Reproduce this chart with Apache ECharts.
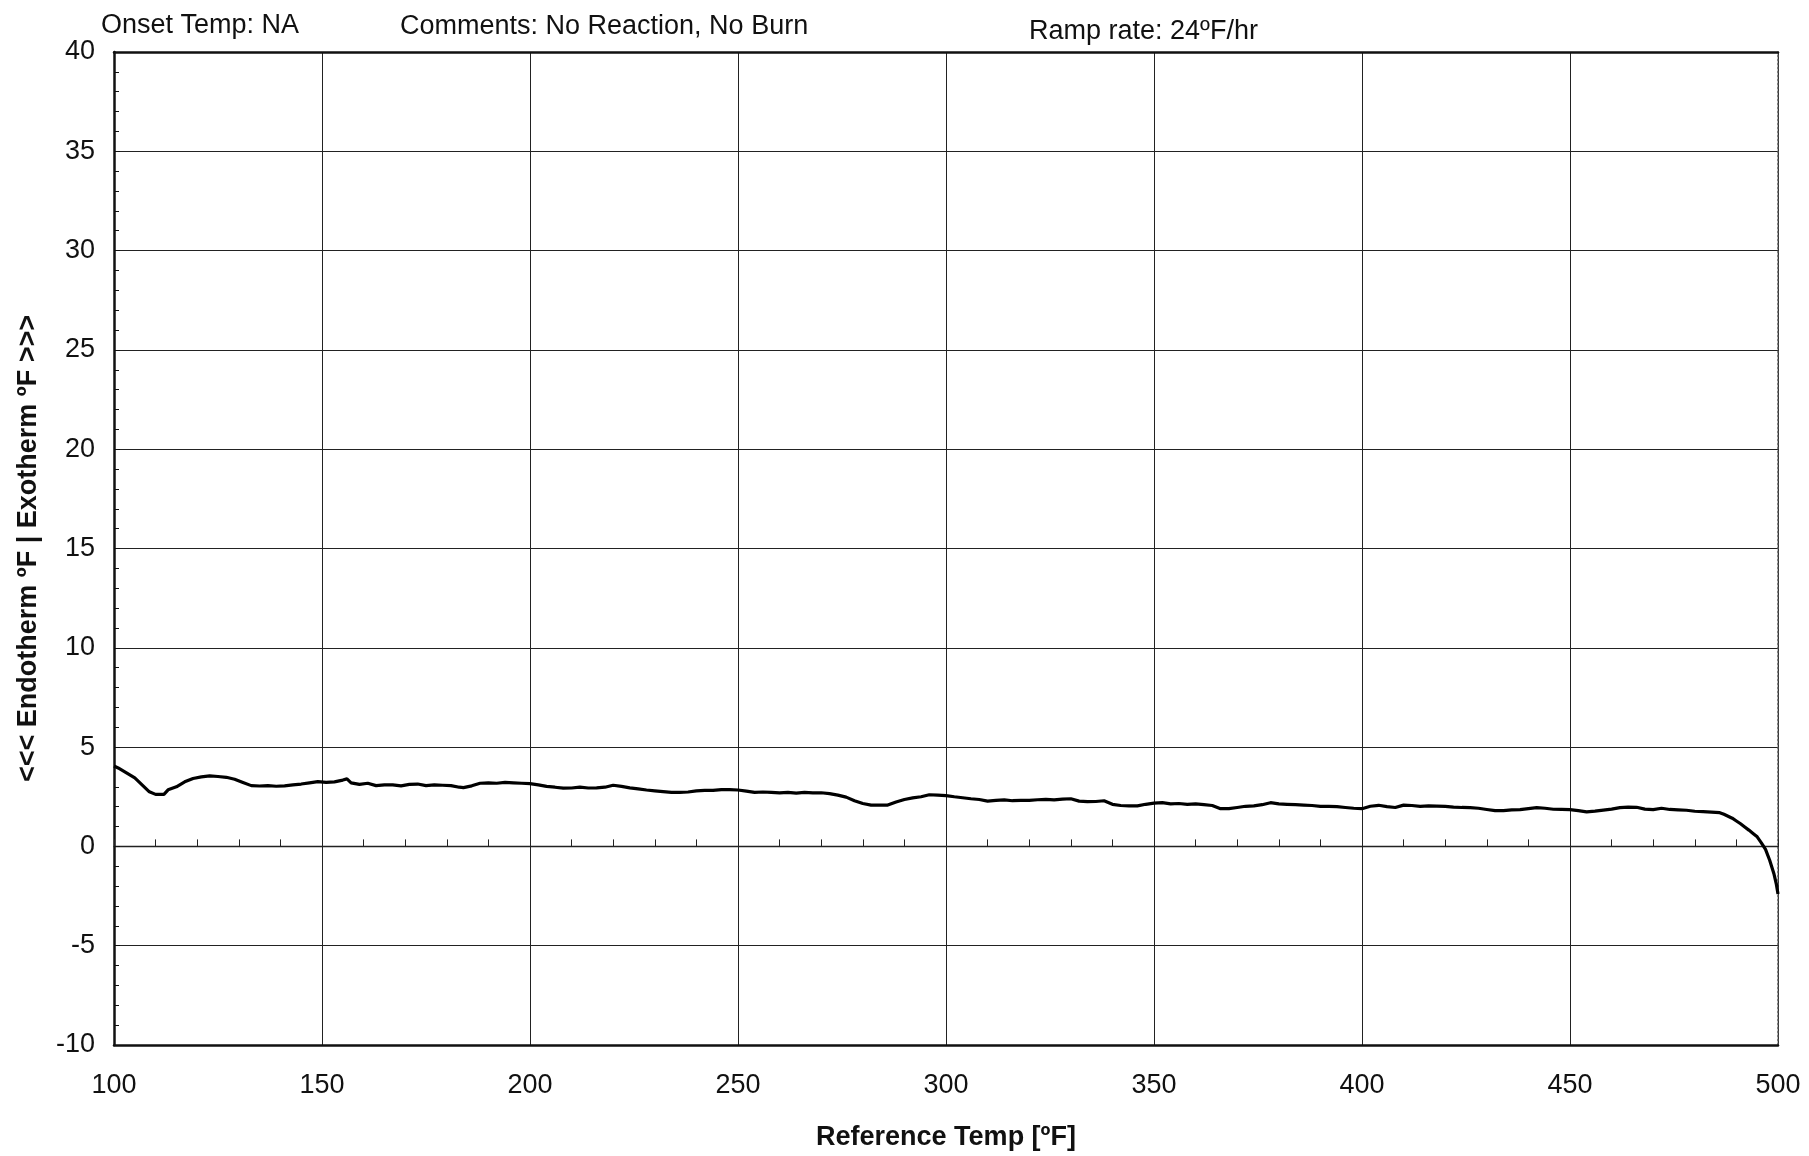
<!DOCTYPE html>
<html>
<head>
<meta charset="utf-8">
<script src="https://cdn.jsdelivr.net/npm/echarts@6/dist/echarts.min.js"></script>
<style>
html,body{margin:0;padding:0;background:#fff;}
#chart{width:1809px;height:1156px;}
</style>
</head>
<body>
<div id="chart"></div>
<script>
// Reference temperature (ºF)
const refTemp = [100,101,103,105,107,108.5,110,112,113,115,117,119,121,123,125,127,129,131,133,135,137,139,141,143,145,147,149,151,153,155,156,157,159,161,163,165,167,169,171,173,175,177,179,181,183,184,186,188,190,192,194,196,198,200,202,204,206,208,210,212,214,216,218,220,222,224,226,228,230,232,234,236,238,240,242,244,246,248,250,252,254,256,258,260,262,264,266,268,270,272,274,276,278,280,282,284,286,288,290,292,294,296,298,300,302,304,306,308,310,312,314,316,318,320,322,324,326,328,330,332,334,336,338,340,342,344,346,348,350,352,354,356,358,360,362,364,366,368,370,372,374,376,378,380,382,384,386,388,390,392,394,396,398,400,402,404,406,408,410,412,414,416,418,420,422,424,426,428,430,432,434,436,438,440,442,444,446,448,450,452,454,456,458,460,462,464,466,468,470,472,474,476,478,480,482,484,486,487,488,489,490,491,492,493,494,495,496,497,498,499,499.6,500];
// Endotherm / Exotherm (ºF)
const deltaT = [4.05,3.95,3.7,3.45,3.05,2.75,2.62,2.62,2.85,3.0,3.25,3.42,3.5,3.55,3.52,3.48,3.38,3.22,3.06,3.04,3.06,3.03,3.05,3.1,3.14,3.2,3.26,3.22,3.25,3.34,3.4,3.2,3.12,3.18,3.06,3.1,3.1,3.05,3.12,3.14,3.06,3.1,3.08,3.06,2.98,2.96,3.05,3.18,3.2,3.18,3.22,3.2,3.18,3.16,3.1,3.02,2.98,2.93,2.94,2.98,2.94,2.95,2.98,3.08,3.02,2.95,2.9,2.84,2.8,2.76,2.72,2.72,2.74,2.8,2.82,2.82,2.86,2.86,2.84,2.78,2.72,2.74,2.72,2.7,2.72,2.68,2.72,2.7,2.7,2.66,2.58,2.48,2.3,2.16,2.08,2.08,2.08,2.24,2.36,2.44,2.5,2.6,2.58,2.56,2.5,2.45,2.4,2.36,2.28,2.32,2.34,2.3,2.32,2.32,2.35,2.37,2.34,2.38,2.4,2.28,2.25,2.26,2.3,2.12,2.06,2.04,2.04,2.12,2.18,2.2,2.14,2.16,2.12,2.14,2.1,2.06,1.9,1.9,1.96,2.02,2.04,2.1,2.2,2.14,2.12,2.1,2.08,2.06,2.02,2.02,2.0,1.96,1.92,1.9,2.02,2.07,2.0,1.96,2.08,2.06,2.02,2.04,2.03,2.02,1.98,1.96,1.95,1.92,1.86,1.8,1.8,1.84,1.85,1.9,1.95,1.92,1.87,1.86,1.85,1.8,1.74,1.78,1.83,1.88,1.95,1.98,1.97,1.88,1.85,1.92,1.86,1.84,1.82,1.77,1.75,1.73,1.7,1.62,1.52,1.42,1.28,1.14,0.98,0.82,0.65,0.48,0.18,-0.15,-0.7,-1.36,-1.9,-2.4];

const headerTexts = ['Onset Temp: NA', 'Comments: No Reaction, No Burn', 'Ramp rate: 24ºF/hr'];
const xTitle = 'Reference Temp [ºF]';
const yTitle = '<<< Endotherm ºF | Exotherm ºF >>>';

const xMin = 100, xMax = 500, xStep = 50, xMinorStep = 10;
const yMin = -10, yMax = 40, yStep = 5;

const FONT = "'Liberation Sans', Arial, sans-serif";

const seriesData = refTemp.map((x, i) => [x, deltaT[i]]);

const chart = echarts.init(document.getElementById('chart'), null, {renderer: 'canvas'});
chart.setOption({
  animation: false,
  backgroundColor: '#fff',
  grid: {left: 114, right: 31, top: 52, bottom: 111, containLabel: false},
  graphic: [
    {type: 'text', left: 101, top: 12, style: {text: headerTexts[0], font: '27px ' + FONT, fill: '#111'}},
    {type: 'text', left: 400, top: 13, style: {text: headerTexts[1], font: '27px ' + FONT, fill: '#111'}},
    {type: 'text', left: 1029, top: 18, style: {text: headerTexts[2], font: '27px ' + FONT, fill: '#111'}}
  ],
  xAxis: [
    {
      type: 'value', min: xMin, max: xMax, interval: xStep, position: 'bottom',
      name: xTitle, nameLocation: 'middle', nameGap: 79,
      nameTextStyle: {fontFamily: FONT, fontWeight: 'bold', fontSize: 27, color: '#111'},
      axisLine: {show: true, onZero: false, lineStyle: {color: '#111', width: 2.5}},
      axisTick: {show: false},
      axisLabel: {margin: 27, fontFamily: FONT, fontSize: 27, color: '#111'},
      splitLine: {show: true, lineStyle: {color: '#222', width: 1}}
    },
    {
      type: 'value', min: xMin, max: xMax, interval: xStep, position: 'top',
      axisLine: {show: true, onZero: false, lineStyle: {color: '#111', width: 2.5}},
      axisTick: {show: false}, axisLabel: {show: false}, splitLine: {show: false}
    },
    {
      type: 'value', min: xMin, max: xMax, interval: xMinorStep, position: 'bottom',
      axisLine: {show: true, onZero: true, onZeroAxisIndex: 0, lineStyle: {color: '#222', width: 1.3}},
      axisTick: {show: true, inside: true, length: 7, lineStyle: {color: '#222', width: 1}},
      axisLabel: {show: false}, splitLine: {show: false}
    }
  ],
  yAxis: [
    {
      type: 'value', min: yMin, max: yMax, interval: yStep, position: 'left',
      name: yTitle, nameLocation: 'middle', nameGap: 72,
      nameTextStyle: {fontFamily: FONT, fontWeight: 'bold', fontSize: 27, color: '#111'},
      axisLine: {show: true, onZero: false, lineStyle: {color: '#111', width: 2.5}},
      axisTick: {show: true, inside: true, length: 6, lineStyle: {color: '#111', width: 1}},
      minorTick: {show: true, splitNumber: 5, length: 5, lineStyle: {color: '#111', width: 1}},
      axisLabel: {margin: 19, fontFamily: FONT, fontSize: 27, color: '#111'},
      splitLine: {show: true, lineStyle: {color: '#222', width: 1}}
    },
    {
      type: 'value', min: yMin, max: yMax, interval: yStep, position: 'right',
      axisLine: {show: true, onZero: false, lineStyle: {color: '#555', width: 1.5, type: [2, 2]}},
      axisTick: {show: false}, axisLabel: {show: false}, splitLine: {show: false}
    }
  ],
  series: [
    {
      type: 'line', xAxisIndex: 0, yAxisIndex: 0, data: seriesData,
      showSymbol: false, symbol: 'none', smooth: false,
      lineStyle: {color: '#000', width: 3.2}
    }
  ]
});
</script>
</body>
</html>
